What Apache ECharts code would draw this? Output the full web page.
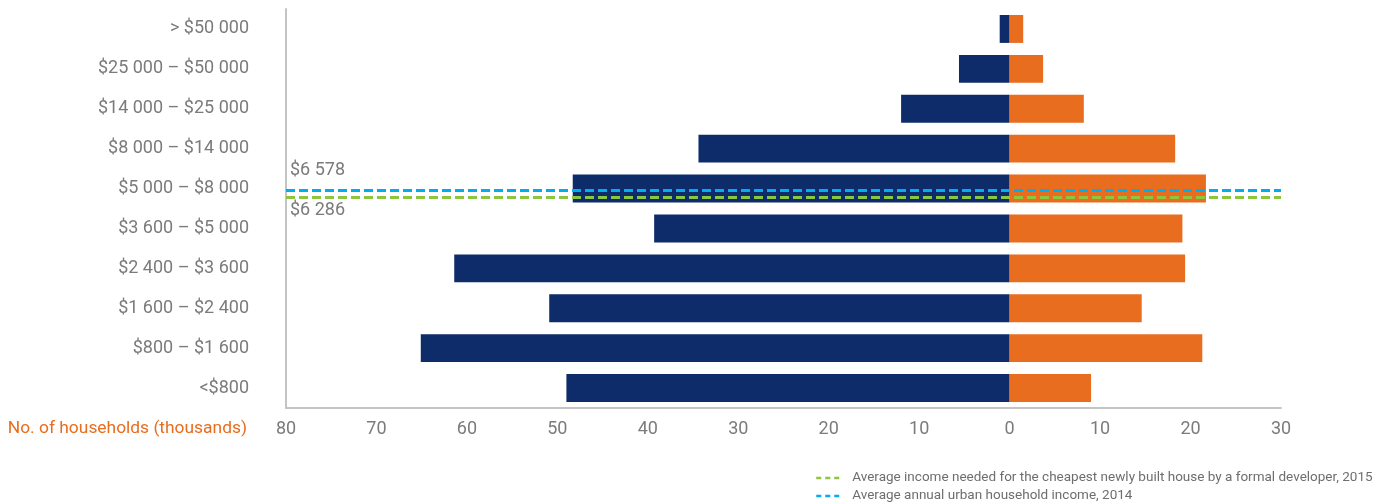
<!DOCTYPE html>
<html>
<head>
<meta charset="utf-8">
<title>Households by annual income</title>
<script src="https://cdn.jsdelivr.net/npm/echarts@6/dist/echarts.min.js"></script>
<style>
  html, body { margin: 0; padding: 0; background: #ffffff; }
  #chart { width: 1383px; height: 504px; }
</style>
</head>
<body>
<div id="chart"></div>
<script>
// Income brackets, listed from top to bottom
const incomeBrackets = [
  '> $50 000',
  '$25 000 – $50 000',
  '$14 000 – $25 000',
  '$8 000 – $14 000',
  '$5 000 – $8 000',
  '$3 600 – $5 000',
  '$2 400 – $3 600',
  '$1 600 – $2 400',
  '$800 – $1 600',
  '<$800'
];

// Number of households (thousands), left-hand group
const householdsLeft = [1.1, 5.6, 12.0, 34.4, 48.3, 39.3, 61.4, 50.9, 65.1, 49.0];
// Number of households (thousands), right-hand group
const householdsRight = [1.5, 3.7, 8.2, 18.3, 21.7, 19.1, 19.4, 14.6, 21.3, 9.0];

// Horizontal axis ticks (thousands of households)
const axisMin = -80;
const axisMax = 30;
const axisStep = 10;

// Reference incomes (US$ per year)
const houseIncomeName = 'Average income needed for the cheapest newly built house by a formal developer, 2015';
const houseIncome = 6286;
const urbanIncomeName = 'Average annual urban household income, 2014';
const urbanIncome = 6578;

const FONT = "Roboto, 'Liberation Sans', sans-serif";
const GREY = '#7b7b7b';
const NAVY = '#0e2c6a';
const ORANGE = '#e86d1f';
const GREEN = '#8cc63e';
const CYAN = '#00aeef';

function formatDollars(v) {
  return '$' + String(Math.round(v)).replace(/\B(?=(\d{3})+(?!\d))/g, ' ');
}

// One legend block per reference line, stacked under the plot
function legendRow(name, top) {
  return {
    data: [name],
    left: 810,
    top: top,
    itemWidth: 25,
    itemHeight: 10,
    selectedMode: false,
    itemStyle: { opacity: 0 },
    lineStyle: { type: [5, 4], width: 2.5 },
    textStyle: { fontFamily: FONT, fontSize: 13.5, color: '#6e6e6e', padding: [0, 0, 0, 6] }
  };
}

const chart = echarts.init(document.getElementById('chart'), null, { renderer: 'canvas' });

chart.setOption({
  animation: false,
  textStyle: { fontFamily: FONT },
  grid: { left: 286, right: 102, top: 9, bottom: 96, containLabel: false },
  legend: [
    legendRow(houseIncomeName, 466),
    legendRow(urbanIncomeName, 484)
  ],
  xAxis: {
    type: 'value',
    min: axisMin,
    max: axisMax,
    interval: axisStep,
    splitLine: { show: false },
    axisTick: { show: false },
    axisLine: { show: true, onZero: false, lineStyle: { color: '#c4c4c4', width: 2 } },
    axisLabel: {
      margin: 12,
      fontFamily: FONT,
      fontSize: 18,
      color: GREY,
      showMinLabel: true,
      showMaxLabel: true,
      formatter: v => String(Math.abs(v))
    }
  },
  yAxis: [
    {
      type: 'category',
      data: incomeBrackets,
      inverse: true,
      axisTick: { show: false },
      axisLine: { show: true, onZero: false, lineStyle: { color: '#c4c4c4', width: 2 } },
      axisLabel: { margin: 37, fontFamily: FONT, fontSize: 18, color: GREY },
      splitLine: { show: false }
    },
    {
      // hidden income scale for the reference lines
      type: 'value',
      min: -2500,
      max: 14100,
      show: false,
      splitLine: { show: false }
    }
  ],
  graphic: [
    {
      type: 'text',
      right: 1383 - 247,
      top: 420,
      style: {
        text: 'No. of households (thousands)',
        fontFamily: FONT,
        fontSize: 17.4,
        fill: ORANGE
      }
    }
  ],
  series: [
    {
      name: 'Households (left)',
      type: 'bar',
      yAxisIndex: 0,
      barWidth: '70%',
      barGap: '-100%',
      itemStyle: { color: NAVY },
      data: householdsLeft.map(v => -v)
    },
    {
      name: 'Households (right)',
      type: 'bar',
      yAxisIndex: 0,
      barWidth: '70%',
      barGap: '-100%',
      itemStyle: { color: ORANGE },
      data: householdsRight
    },
    {
      name: houseIncomeName,
      type: 'line',
      xAxisIndex: 0,
      yAxisIndex: 1,
      symbol: 'none',
      z: 5,
      color: GREEN,
      lineStyle: { color: GREEN, width: 3, type: [9, 4] },
      data: [],
      markLine: {
        silent: true,
        symbol: ['none', 'none'],
        lineStyle: { color: GREEN, width: 3, type: [9, 4] },
        label: {
          show: true,
          position: 'insideStartBottom',
          distance: [4, 5],
          fontFamily: FONT,
          fontSize: 18,
          color: GREY,
          formatter: p => formatDollars(p.value)
        },
        data: [{ yAxis: houseIncome }]
      }
    },
    {
      name: urbanIncomeName,
      type: 'line',
      xAxisIndex: 0,
      yAxisIndex: 1,
      symbol: 'none',
      z: 5,
      color: CYAN,
      lineStyle: { color: CYAN, width: 3, type: [9, 4] },
      data: [],
      markLine: {
        silent: true,
        symbol: ['none', 'none'],
        lineStyle: { color: CYAN, width: 3, type: [9, 4] },
        label: {
          show: true,
          position: 'insideStartTop',
          distance: [4, 10],
          fontFamily: FONT,
          fontSize: 18,
          color: GREY,
          formatter: p => formatDollars(p.value)
        },
        data: [{ yAxis: urbanIncome }]
      }
    }
  ]
});
</script>
</body>
</html>
